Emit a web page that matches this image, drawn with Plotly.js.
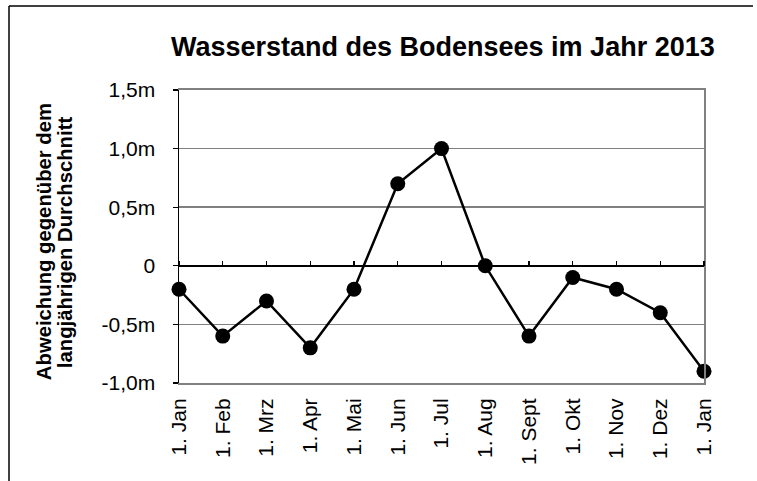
<!DOCTYPE html>
<html>
<head>
<meta charset="utf-8">
<script src="https://cdn.plot.ly/plotly-3.0.1.min.js"></script>
<style>html,body{margin:0;padding:0;background:#fff;}#chart{width:757px;height:481px;}</style>
</head>
<body>
<div id="chart"></div>
<script>
const monthLabels = ["1. Jan","1. Feb","1. Mrz","1. Apr","1. Mai","1. Jun","1. Jul","1. Aug","1. Sept","1. Okt","1. Nov","1. Dez","1. Jan"];
const deviation = [-0.2,-0.6,-0.3,-0.7,-0.2,0.7,1.0,0.0,-0.6,-0.1,-0.2,-0.4,-0.9];
const yTickVals = [-1.0,-0.5,0,0.5,1.0,1.5];
const yTickText = ["-1,0m","-0,5m","0","0,5m","1,0m","1,5m"];
const yTitleLines = ["Abweichung gegenüber dem","langjährigen Durchschnitt"];
const idx = monthLabels.map((_, i) => i);

const FONT = "Liberation Sans, Arial, sans-serif";

const traces = [
  {
    x: idx, y: deviation, type: "scatter", mode: "lines+markers",
    line: {color: "#000", width: 2.5},
    marker: {color: "#000", size: 15},
    cliponaxis: false, showlegend: false, hoverinfo: "skip"
  },
  {
    x: idx, y: deviation, xaxis: "x2", yaxis: "y2", type: "scatter", mode: "markers",
    marker: {opacity: 0}, showlegend: false, hoverinfo: "skip"
  }
];

const layout = {
  width: 757, height: 481,
  margin: {l: 179, r: 53, t: 90, b: 98},
  paper_bgcolor: "#fff", plot_bgcolor: "#fff",
  font: {family: FONT, size: 21, color: "#000"},
  showlegend: false,
  title: {
    text: "<b>Wasserstand des Bodensees im Jahr 2013</b>",
    font: {family: FONT, size: 27, color: "#000"},
    x: 0.585, xanchor: "center", y: 0.903, yanchor: "middle"
  },
  xaxis: {
    range: [0, 12], tickvals: idx, ticktext: monthLabels, tickangle: -90,
    showgrid: false, zeroline: false, showline: true, linecolor: "#808080", linewidth: 2,
    mirror: true, ticks: "", tickfont: {size: 21}, ticklabelstandoff: 5
  },
  xaxis2: {
    overlaying: "x", anchor: "free", position: 0.4, side: "top",
    range: [0, 12], tickvals: idx, showticklabels: false,
    ticks: "outside", ticklen: 5, tickwidth: 1.2, tickcolor: "#000",
    showgrid: false, zeroline: false, showline: false
  },
  yaxis: {
    range: [-1.0, 1.5], tickvals: yTickVals, ticktext: yTickText,
    showgrid: true, gridcolor: "#808080", gridwidth: 1.5,
    zeroline: true, zerolinecolor: "#000", zerolinewidth: 1.5,
    showline: true, linecolor: "#000", linewidth: 1.5,
    ticks: "outside", ticklen: 5, tickcolor: "#000", tickwidth: 1.2,
    tickfont: {size: 21}, ticklabelstandoff: 13,
    automargin: false
  },
  yaxis2: {
    overlaying: "y", side: "right", anchor: "x", range: [-1.0, 1.5],
    showticklabels: false, ticks: "", showgrid: false, zeroline: false,
    showline: true, linecolor: "#808080", linewidth: 2
  },
  annotations: [
    {text: "<b>" + yTitleLines[0] + "</b>", xref: "paper", yref: "paper", x: -0.257, y: 0.481,
     xanchor: "center", yanchor: "middle", textangle: -90, showarrow: false,
     font: {family: FONT, size: 20.3, color: "#000"}},
    {text: "<b>" + yTitleLines[1] + "</b>", xref: "paper", yref: "paper", x: -0.217, y: 0.481,
     xanchor: "center", yanchor: "middle", textangle: -90, showarrow: false,
     font: {family: FONT, size: 20.3, color: "#000"}}
  ],
  shapes: [
    {type: "line", xref: "paper", yref: "paper", x0: -0.3238, x1: -0.3238, y0: -0.34, y1: 1.2867, line: {color: "#000", width: 1.5}},
    {type: "line", xref: "paper", yref: "paper", x0: -0.3238, x1: 1.0933, y0: 1.2867, y1: 1.2867, line: {color: "#000", width: 1.5}}
  ]
};

Plotly.newPlot("chart", traces, layout, {displayModeBar: false, staticPlot: true});
</script>
</body>
</html>
